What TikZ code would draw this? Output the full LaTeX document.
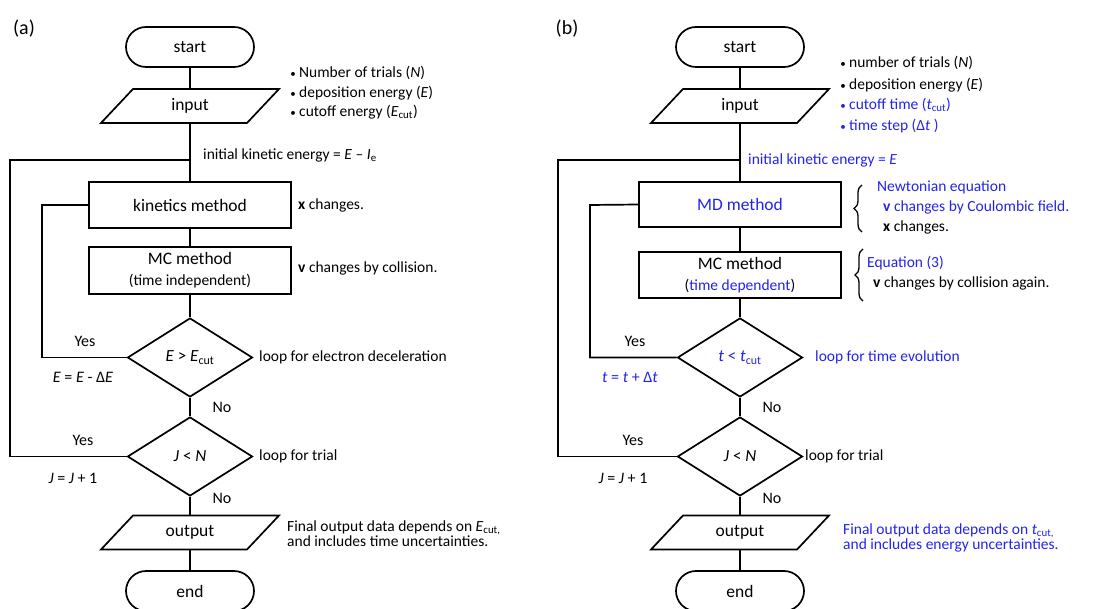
\documentclass[tikz,border=0pt]{standalone}
\usepackage{fontspec}
\setmainfont{Carlito}
\usetikzlibrary{shapes.geometric,decorations.pathreplacing}
\definecolor{myblue}{RGB}{35,35,235}
\newcommand\cutsub{\textsubscript{cut}}
\newcommand\bul{\makebox[10pt][c]{\fontsize{11}{11}\selectfont\textbullet}\hspace{1pt}}
\newcommand\blu[1]{\textcolor{myblue}{#1}}
\newcommand\parashape[1]{\draw[lw] (#1.center) ++(-89,17) -- ++(146,0) -- ++(32,-34) -- ++(-146,0) -- cycle;}
\begin{document}
\begin{tikzpicture}[x=1pt,y=-1pt,
 lw/.style={line width=1.7pt},
 term/.style={draw,lw,rounded corners=20pt,minimum width=128pt,minimum height=40pt,inner sep=0pt,font=\fontsize{17.5}{20}\selectfont},
 proc/.style={draw,lw,minimum width=202pt,inner sep=0pt,align=center,font=\fontsize{17.5}{21}\selectfont},
 iobox/.style={minimum width=150pt,minimum height=34pt,inner sep=0pt,font=\fontsize{17.5}{20}\selectfont},
 dec/.style={draw,lw,diamond,minimum width=125pt,minimum height=79pt,inner sep=0pt,font=\fontsize{17}{20}\selectfont},
 ann/.style={anchor=west,inner sep=0pt,font=\fontsize{15.5}{18}\selectfont},
 ann2/.style={anchor=west,inner sep=0pt,align=left,font=\fontsize{15.5}{13}\selectfont},
 lab/.style={inner sep=0pt,font=\fontsize{16}{18}\selectfont},
 brc/.style={line width=1.3pt,decorate,decoration={brace,amplitude=8pt}},
]
\useasboundingbox (0,0) rectangle (1107,609);

% ---------------- panel (a) ----------------
\node[inner sep=0pt,font=\fontsize{20}{22}\selectfont] (lblA) at (24,29) {(a)};
\node[term] (startA) at (190,47) {start};
\node[iobox] (inA) at (190,106) {input};
\parashape{inA}
\coordinate (jA) at (190,160);
\node[proc,minimum height=46pt] (kinA) at (190,205) {kinetics method};
\node[proc,minimum height=47pt] (mcA) at (190,270.5) {MC method\\{\fontsize{15.5}{18}\selectfont (time independent)}};
\node[dec] (d1A) at (190,357.5) {\textit{E} > \textit{E}\cutsub};
\node[dec] (d2A) at (190,456.5) {\textit{J} < \textit{N}};
\node[iobox] (outA) at (190,532.5) {output};
\parashape{outA}
\node[term] (endA) at (190,591) {end};

\draw[lw] (startA) -- (inA) -- (kinA) -- (mcA) -- (d1A) -- (d2A) -- (outA) -- (endA);
\coordinate (oA) at (10,160);
\coordinate (iA) at (42,205);
\draw[lw] (d2A.west) -| (oA) -- (jA);
\draw[lw] (d1A.west) -| (iA) -- (kinA.west);

\node[ann] (a1) at (288,73) {\bul Number of trials (\textit{N})};
\node[ann] (a2) at (288,93) {\bul deposition energy (\textit{E})};
\node[ann] (a3) at (288,112) {\bul cutoff energy (\textit{E}\cutsub)};
\node[ann] (a4) at (203,155) {initial kinetic energy = \textit{E} – \textit{I}\textsubscript{e}};
\node[ann] (a5) at (298,205) {\textbf{x} changes.};
\node[ann] (a6) at (298,268) {\textbf{v} changes by collision.};
\node[lab] (a7) at (85,341) {Yes};
\node[lab] (a8) at (83,377) {\textit{E} = \textit{E} - Δ\textit{E}};
\node[ann] (a9) at (259,357) {loop for electron deceleration};
\node[lab] (a10) at (222,407) {No};
\node[lab] (a11) at (83,440) {Yes};
\node[lab] (a12) at (73,478) {\textit{J} = \textit{J} + 1};
\node[ann] (a13) at (259,456) {loop for trial};
\node[lab] (a14) at (222,498) {No};
\node[ann2] (a15) at (287,534) {Final output data depends on \textit{E}\textsubscript{cut,}\\and includes time uncertainties.};

% ---------------- panel (b) ----------------
\node[inner sep=0pt,font=\fontsize{20}{22}\selectfont] (lblB) at (567,29) {(b)};
\node[term] (startB) at (740,47) {start};
\node[iobox] (inB) at (740,106) {input};
\parashape{inB}
\coordinate (jB) at (740,160);
\node[proc,minimum height=45pt] (mdB) at (740,204.5) {\blu{MD method}};
\node[proc,minimum height=46pt] (mcB) at (740,275) {MC method\\{\fontsize{15.5}{18}\selectfont (\blu{time dependent})}};
\node[dec] (d1B) at (740,357.5) {\blu{\textit{t} < \textit{t}\cutsub}};
\node[dec] (d2B) at (740,456.5) {\textit{J} < \textit{N}};
\node[iobox] (outB) at (740,532.5) {output};
\parashape{outB}
\node[term] (endB) at (740,591) {end};

\draw[lw] (startB) -- (inB) -- (mdB) -- (mcB) -- (d1B) -- (d2B) -- (outB) -- (endB);
\coordinate (oB) at (558,160);
\coordinate (iB) at (590,205);
\draw[lw] (d2B.west) -| (oB) -- (jB);
\draw[lw] (d1B.west) -| (iB) -- (mdB.west);

\node[ann] (b1) at (838,63) {\bul number of trials (\textit{N})};
\node[ann] (b2) at (838,85) {\bul deposition energy (\textit{E})};
\node[ann] (b3) at (838,105) {\blu{\bul cutoff time (\textit{t}\cutsub)}};
\node[ann] (b4) at (838,126) {\blu{\bul time step (Δ\textit{t} )}};
\node[ann] (b5) at (748,160) {\blu{initial kinetic energy = \textit{E}}};
\coordinate (br1a) at (862,232);
\coordinate (br1b) at (862,185);
\draw[brc] (br1a) -- (br1b);
\node[ann] (b6) at (877,187) {\blu{Newtonian equation}};
\node[ann] (b7) at (883,207) {\blu{\textbf{v} changes by Coulombic field.}};
\node[ann] (b8) at (883,227) {\textbf{x} changes.};
\coordinate (br2a) at (863,301);
\coordinate (br2b) at (863,249);
\draw[brc] (br2a) -- (br2b);
\node[ann] (b9) at (867,263) {\blu{Equation (3)}};
\node[ann] (b10) at (873,283) {\textbf{v} changes by collision again.};
\node[lab] (b11) at (635,341) {Yes};
\node[lab] (b12) at (630,377) {\blu{\textit{t} = \textit{t} + Δ\textit{t}}};
\node[ann] (b13) at (815,357) {\blu{loop for time evolution}};
\node[lab] (b14) at (772,407) {No};
\node[lab] (b15) at (633,440) {Yes};
\node[lab] (b16) at (623,478) {\textit{J} = \textit{J} + 1};
\node[ann] (b17) at (805,456) {loop for trial};
\node[lab] (b18) at (772,498) {No};
\node[ann2] (b19) at (843,538) {\blu{Final output data depends on \textit{t}\textsubscript{cut,}}\\\blu{and includes energy uncertainties.}};
\end{tikzpicture}
\end{document}
